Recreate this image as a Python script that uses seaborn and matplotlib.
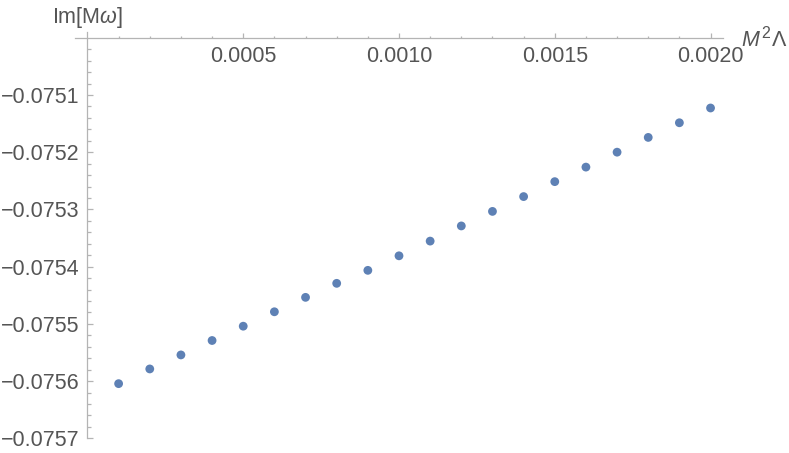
"""Im[M omega] against M^2 Lambda, Mathematica-style axes"""
import matplotlib
matplotlib.use("Agg")
import matplotlib.pyplot as plt
import pandas as pd
import seaborn as sns
from matplotlib.ticker import FixedLocator

# data
lam = [0.0001, 0.0002, 0.0003, 0.0004, 0.0005, 0.0006, 0.0007, 0.0008, 0.0009, 0.0010,
       0.0011, 0.0012, 0.0013, 0.0014, 0.0015, 0.0016, 0.0017, 0.0018, 0.0019, 0.0020]
im_omega = [-0.0756045, -0.0755788, -0.0755543, -0.0755291, -0.0755041,
            -0.0754789, -0.0754537, -0.0754292, -0.0754065, -0.0753811,
            -0.0753554, -0.0753289, -0.0753035, -0.0752776, -0.0752515,
            -0.0752261, -0.0752000, -0.0751742, -0.0751486, -0.0751228]

x_major = [0.0005, 0.0010, 0.0015, 0.0020]
x_labels = ["0.0005", "0.0010", "0.0015", "0.0020"]
y_major = [-0.0751, -0.0752, -0.0753, -0.0754, -0.0755, -0.0756, -0.0757]
y_labels = ["\u22120.0751", "\u22120.0752", "\u22120.0753", "\u22120.0754",
            "\u22120.0755", "\u22120.0756", "\u22120.0757"]

df = pd.DataFrame({"lam": lam, "im": im_omega})

sns.set_style("white")
plt.rcParams["font.family"] = ["Liberation Sans", "DejaVu Sans"]
plt.rcParams["mathtext.fontset"] = "custom"
plt.rcParams["mathtext.rm"] = "Liberation Sans"
plt.rcParams["mathtext.it"] = "Liberation Sans:italic"

axis_col = "#b4b4b4"
text_col = "#555555"
fs = 15.5

fig = plt.figure(figsize=(7.89, 4.53), dpi=100)
ax = fig.add_axes([75 / 789, 14.7 / 453, 648 / 789, 406.3 / 453])

sns.scatterplot(data=df, x="lam", y="im", ax=ax, color="#5e81b5",
                s=40, edgecolor="none", zorder=3, clip_on=False)

ax.set_xlim(-0.00004, 0.00204)
ax.set_ylim(-0.0757, -0.07499)

# axes cross at (0, -0.0750)
ax.spines["top"].set_visible(False)
ax.spines["right"].set_visible(False)
ax.spines["bottom"].set_position(("data", -0.0750))
ax.spines["left"].set_position(("data", 0.0))
for side in ["bottom", "left"]:
    ax.spines[side].set_color(axis_col)
    ax.spines[side].set_linewidth(0.9)

ax.set_xticks(x_major, x_labels)
ax.set_yticks(y_major, y_labels)
ax.xaxis.set_minor_locator(FixedLocator([i * 0.0001 for i in range(1, 21)]))
ax.yaxis.set_minor_locator(FixedLocator([-0.0750 - i * 0.00002 for i in range(1, 35)]))

ax.tick_params(axis="both", which="both", direction="in", color=axis_col,
               labelcolor=text_col, labelsize=fs, width=0.9,
               bottom=True, left=True, top=False, right=False)
ax.tick_params(axis="x", which="major", length=3.3, pad=6)
ax.tick_params(axis="x", which="minor", length=1.8)
ax.tick_params(axis="y", which="major", length=4.3, pad=6)
ax.tick_params(axis="y", which="minor", length=2.6)

ax.set_xlabel("")
ax.set_ylabel("")
ax.grid(False)

fig.text(52 / 789, 1 - 17 / 453, r"Im[M$\omega$]", fontsize=fs, color=text_col,
         ha="left", va="center")
# x axis label M^2 Lambda, built from pieces to get a larger superscript
fig.text(741 / 789, 1 - 40 / 453, "M", fontsize=fs, style="italic",
         color=text_col, ha="left", va="center")
fig.text(761 / 789, 1 - 33 / 453, "2", fontsize=11.5,
         color=text_col, ha="left", va="center")
fig.text(772 / 789, 1 - 40 / 453, "\u039b", fontsize=fs,
         color=text_col, ha="left", va="center")

fig.savefig("out.png", dpi=100)
